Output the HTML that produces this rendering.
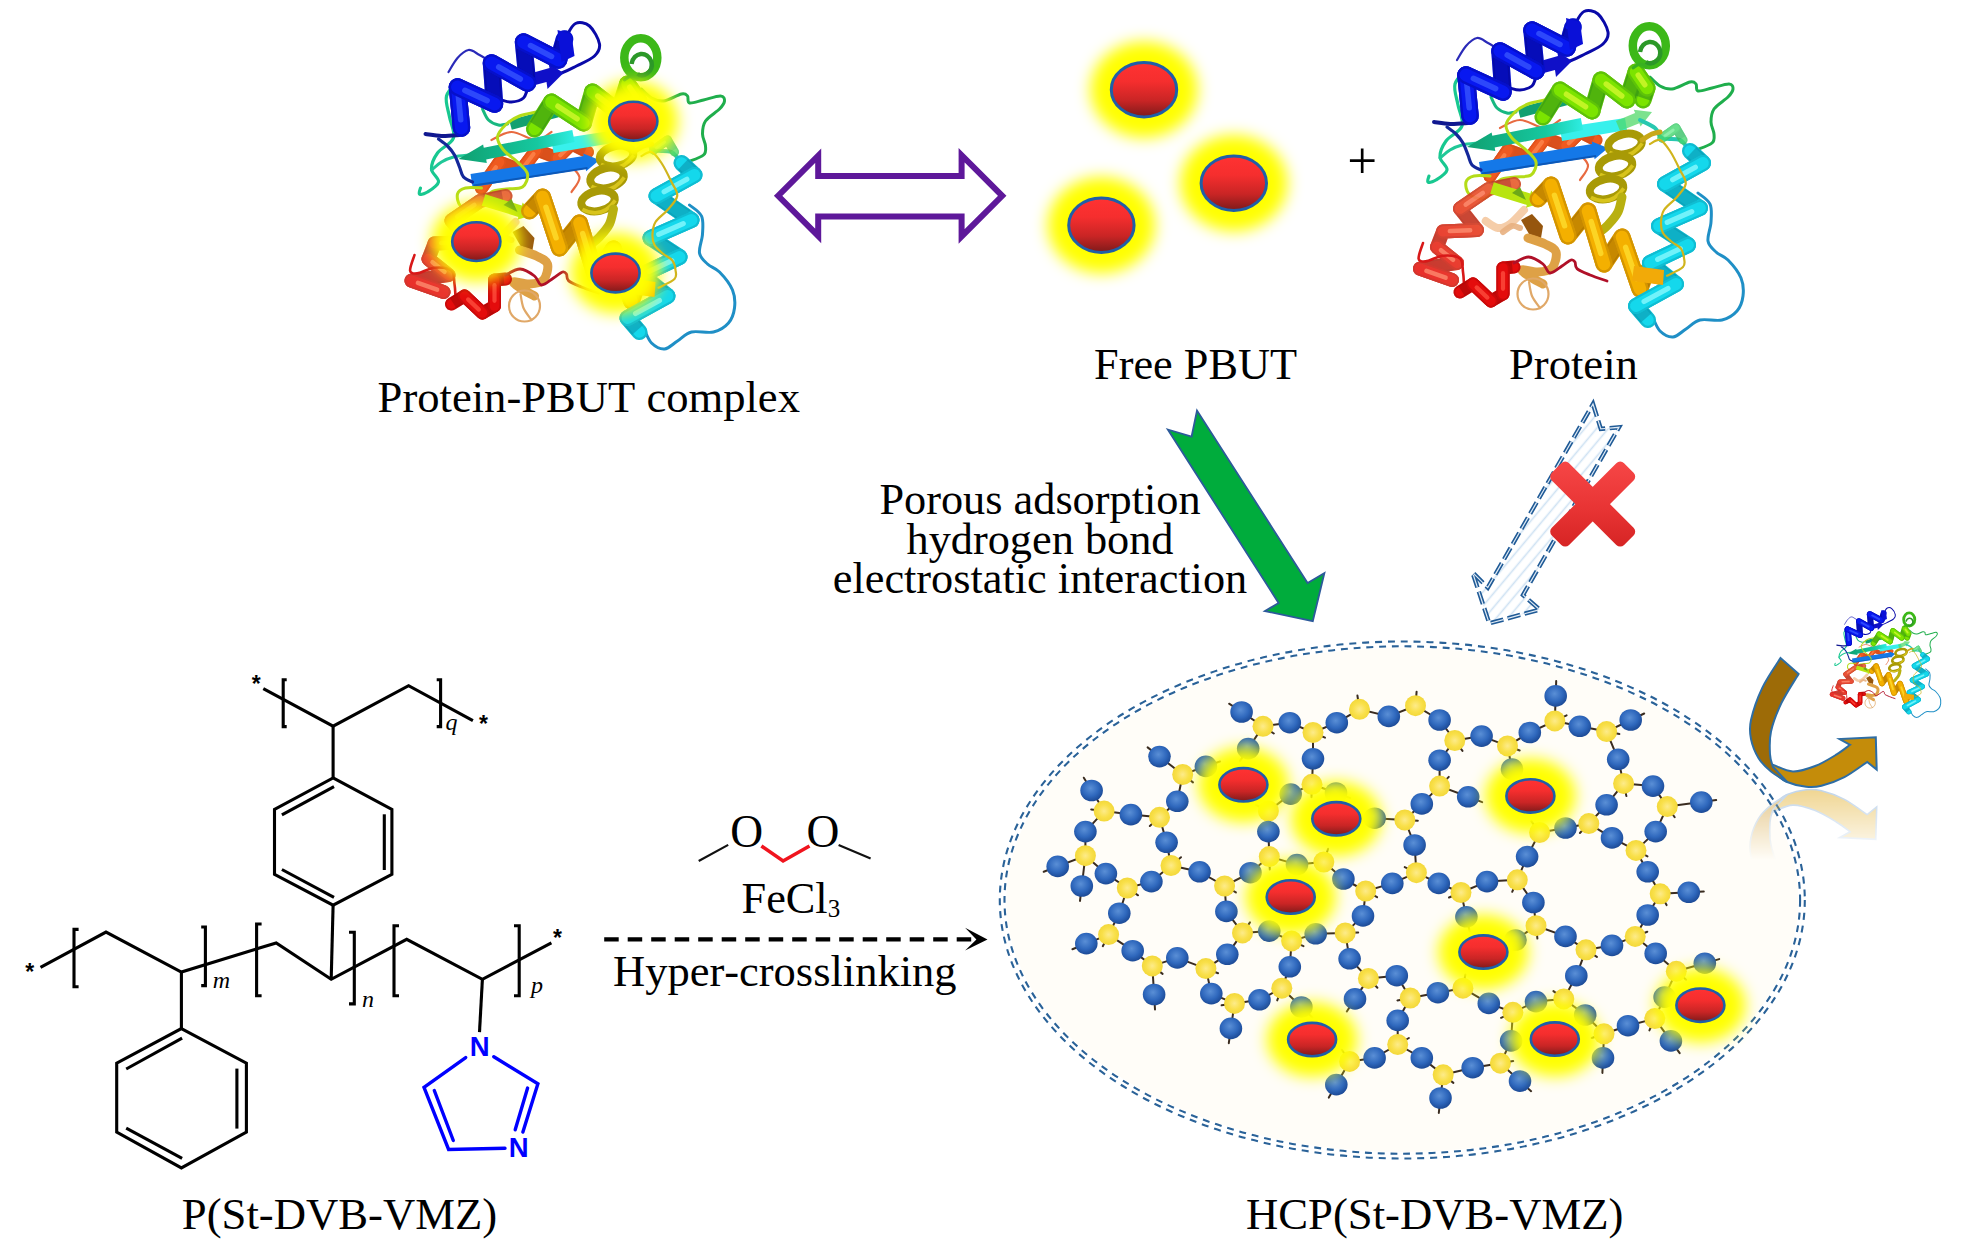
<!DOCTYPE html>
<html><head><meta charset="utf-8"><title>HCP(St-DVB-VMZ) adsorption of PBUT</title>
<style>html,body{margin:0;padding:0;background:#fff}svg{display:block}</style></head>
<body><svg width="1965" height="1260" viewBox="0 0 1965 1260">
<rect width="1965" height="1260" fill="#fff"/>

<defs>
<filter id="gblur" x="-40%" y="-40%" width="180%" height="180%"><feGaussianBlur stdDeviation="7.4"/></filter>
<linearGradient id="red" x1="0" y1="0" x2="0" y2="1">
<stop offset="0" stop-color="#ff3232"/>
<stop offset="0.35" stop-color="#f52e2e"/>
<stop offset="0.7" stop-color="#c92525"/>
<stop offset="1" stop-color="#7e1a1a"/>
</linearGradient>
<radialGradient id="gb" cx="45%" cy="40%" r="60%">
<stop offset="0" stop-color="#5a8fd6"/>
<stop offset="0.6" stop-color="#2f68bd"/>
<stop offset="1" stop-color="#1c4a96"/>
</radialGradient>
<radialGradient id="gy" cx="50%" cy="50%" r="50%">
<stop offset="0" stop-color="#fdeb8a"/>
<stop offset="0.6" stop-color="#f9e04a"/>
<stop offset="1" stop-color="#f3d83a"/>
</radialGradient>
<linearGradient id="redx" gradientUnits="userSpaceOnUse" x1="0" y1="462" x2="0" y2="547">
<stop offset="0" stop-color="#f64646"/>
<stop offset="0.55" stop-color="#e83434"/>
<stop offset="1" stop-color="#d62424"/>
</linearGradient>
<linearGradient id="refl" x1="0" y1="0" x2="0" y2="1">
<stop offset="0" stop-color="#fff" stop-opacity="0.5"/>
<stop offset="1" stop-color="#fff" stop-opacity="0"/>
</linearGradient>
<mask id="reflmask" maskUnits="userSpaceOnUse" x="1700" y="780" width="265" height="120">
<rect x="1700" y="788" width="265" height="72" fill="url(#refl)"/>
</mask>
<pattern id="hatch" width="9" height="9" patternUnits="userSpaceOnUse" patternTransform="rotate(-50)">
<rect width="9" height="9" fill="#ffffff"/>
<line x1="0" y1="4.5" x2="9" y2="4.5" stroke="#cfe2f3" stroke-width="1.6"/>
</pattern>
</defs>

<g id="prot">
<defs>
<linearGradient id="pg1" gradientUnits="userSpaceOnUse" x1="1467" y1="0" x2="1625" y2="0"><stop offset="0" stop-color="#0fa070"/><stop offset="0.5" stop-color="#16c8a0"/><stop offset="0.75" stop-color="#30f0e8"/><stop offset="1" stop-color="#40e8d0"/></linearGradient>
<linearGradient id="pg2" gradientUnits="userSpaceOnUse" x1="1420" y1="290" x2="1515" y2="180"><stop offset="0" stop-color="#e81818"/><stop offset="1" stop-color="#e86030"/></linearGradient>
</defs>
<g fill="none">
<polyline points="1490.0,176.0 1508.0,150.0 1530.0,158.0 1545.0,138.0 1566.0,146.0 1580.0,132.0 1596.0,140.0" stroke="#ef5a20" stroke-width="13.0" stroke-linejoin="round" stroke-linecap="round"/>
<polyline points="1490.0,176.0 1508.0,150.0 1530.0,158.0 1545.0,138.0 1566.0,146.0 1580.0,132.0 1596.0,140.0" stroke="#c84818" stroke-width="13.0" stroke-linejoin="round" stroke-linecap="round" opacity="0.4"/>
<polyline points="1490.0,176.0 1508.0,150.0 1530.0,158.0 1545.0,138.0 1566.0,146.0 1580.0,132.0 1596.0,140.0" stroke="#ef5a20" stroke-width="9.4" stroke-linejoin="round" stroke-linecap="round"/>
<line x1="1510.6" y1="151.0" x2="1526.7" y2="156.8" stroke="#c84818" stroke-width="12.0" opacity="0.55"/>
<line x1="1547.5" y1="139.0" x2="1562.8" y2="144.8" stroke="#c84818" stroke-width="12.0" opacity="0.55"/>
<line x1="1581.9" y1="133.0" x2="1593.6" y2="138.8" stroke="#c84818" stroke-width="12.0" opacity="0.55"/>
<line x1="1490.0" y1="176.0" x2="1508.0" y2="150.0" stroke="#ef5a20" stroke-width="13.0" stroke-linecap="round"/>
<line x1="1490.0" y1="176.0" x2="1508.0" y2="150.0" stroke="#c84818" stroke-width="13.0" stroke-linecap="round" opacity="0.38"/>
<line x1="1490.0" y1="176.0" x2="1508.0" y2="150.0" stroke="#ef5a20" stroke-width="9.6" stroke-linecap="round"/>
<line x1="1493.6" y1="170.8" x2="1504.4" y2="155.2" stroke="#ff8a50" stroke-width="4.2" opacity="0.75" stroke-linecap="round"/>
<line x1="1530.0" y1="158.0" x2="1545.0" y2="138.0" stroke="#ef5a20" stroke-width="13.0" stroke-linecap="round"/>
<line x1="1530.0" y1="158.0" x2="1545.0" y2="138.0" stroke="#c84818" stroke-width="13.0" stroke-linecap="round" opacity="0.38"/>
<line x1="1530.0" y1="158.0" x2="1545.0" y2="138.0" stroke="#ef5a20" stroke-width="9.6" stroke-linecap="round"/>
<line x1="1533.0" y1="154.0" x2="1542.0" y2="142.0" stroke="#ff8a50" stroke-width="4.2" opacity="0.75" stroke-linecap="round"/>
<line x1="1566.0" y1="146.0" x2="1580.0" y2="132.0" stroke="#ef5a20" stroke-width="13.0" stroke-linecap="round"/>
<line x1="1566.0" y1="146.0" x2="1580.0" y2="132.0" stroke="#c84818" stroke-width="13.0" stroke-linecap="round" opacity="0.38"/>
<line x1="1566.0" y1="146.0" x2="1580.0" y2="132.0" stroke="#ef5a20" stroke-width="9.6" stroke-linecap="round"/>
<line x1="1568.8" y1="143.2" x2="1577.2" y2="134.8" stroke="#ff8a50" stroke-width="4.2" opacity="0.75" stroke-linecap="round"/>
</g>
<path d="M1500.0 128.0 C1503.3 126.7 1512.5 120.0 1520.0 120.0 C1527.5 120.0 1538.3 128.0 1545.0 128.0 C1551.7 128.0 1557.5 121.3 1560.0 120.0" fill="none" stroke="#e86a40" stroke-width="2.2" stroke-linecap="round" stroke-linejoin="round"/>
<path d="M1575.0 150.0 C1577.2 152.5 1587.2 160.0 1588.0 165.0 C1588.8 170.0 1581.3 177.5 1580.0 180.0" fill="none" stroke="#e86a40" stroke-width="2.2" stroke-linecap="round" stroke-linejoin="round"/>
<path d="M1467.0 69.0 C1465.0 71.5 1456.5 78.0 1455.0 84.0 C1453.5 90.0 1456.8 98.0 1458.0 105.0 C1459.2 112.0 1464.0 120.0 1462.0 126.0 C1460.0 132.0 1449.7 135.8 1446.0 141.0 C1442.3 146.2 1439.8 152.2 1440.0 157.0 C1440.2 161.8 1447.7 166.2 1447.0 170.0 C1446.3 173.8 1439.2 178.0 1436.0 180.0 C1432.8 182.0 1429.2 182.7 1428.0 182.0 C1426.8 181.3 1428.8 177.0 1429.0 176.0" fill="none" stroke="#18c890" stroke-width="3.2" stroke-linecap="round" stroke-linejoin="round"/>
<path d="M1491.0 97.0 C1492.0 98.8 1494.3 105.3 1497.0 108.0 C1499.7 110.7 1503.8 112.3 1507.0 113.0 C1510.2 113.7 1514.5 112.2 1516.0 112.0" fill="none" stroke="#18b880" stroke-width="3.0" stroke-linecap="round" stroke-linejoin="round"/>
<path d="M1478.0 143.0 C1475.3 143.3 1466.7 143.8 1462.0 145.0 C1457.3 146.2 1453.7 147.8 1450.0 150.0 C1446.3 152.2 1441.7 156.7 1440.0 158.0" fill="none" stroke="#20c898" stroke-width="3.0" stroke-linecap="round" stroke-linejoin="round"/>
<path d="M1650.0 77.0 C1651.7 78.5 1656.3 84.0 1660.0 86.0 C1663.7 88.0 1667.0 89.7 1672.0 89.0 C1677.0 88.3 1686.0 82.8 1690.0 82.0 C1694.0 81.2 1694.7 82.5 1696.0 84.0 C1697.3 85.5 1695.3 90.3 1698.0 91.0 C1700.7 91.7 1706.8 89.2 1712.0 88.0 C1717.2 86.8 1725.5 83.8 1729.0 84.0 C1732.5 84.2 1733.2 86.8 1733.0 89.0 C1732.8 91.2 1731.2 93.7 1728.0 97.0 C1724.8 100.3 1716.8 104.8 1714.0 109.0 C1711.2 113.2 1711.0 117.8 1711.0 122.0 C1711.0 126.2 1713.8 130.5 1714.0 134.0 C1714.2 137.5 1715.0 140.3 1712.0 143.0 C1709.0 145.7 1698.7 148.8 1696.0 150.0" fill="none" stroke="#1fae4c" stroke-width="3.0" stroke-linecap="round" stroke-linejoin="round"/>
<path d="M1698.0 193.0 C1700.0 194.8 1707.8 199.2 1710.0 204.0 C1712.2 208.8 1711.3 215.8 1711.0 222.0 C1710.7 228.2 1707.2 236.0 1708.0 241.0 C1708.8 246.0 1712.7 248.8 1716.0 252.0 C1719.3 255.2 1723.8 255.7 1728.0 260.0 C1732.2 264.3 1738.5 272.0 1741.0 278.0 C1743.5 284.0 1743.7 290.5 1743.0 296.0 C1742.3 301.5 1740.5 307.0 1737.0 311.0 C1733.5 315.0 1728.2 318.5 1722.0 320.0 C1715.8 321.5 1706.0 318.5 1700.0 320.0 C1694.0 321.5 1690.5 326.2 1686.0 329.0 C1681.5 331.8 1677.3 336.7 1673.0 337.0 C1668.7 337.3 1663.3 334.2 1660.0 331.0 C1656.7 327.8 1654.2 320.2 1653.0 318.0" fill="none" stroke="#1f8fc6" stroke-width="3.0" stroke-linecap="round" stroke-linejoin="round"/>
<polygon points="1560,128 1625,118 1627,130 1562,141" fill="#38f0ec"/>
<polygon points="1620.1,131.1 1639.3,123.2 1640.6,126.4 1652.0,112.0 1633.8,109.8 1635.1,113.0 1615.9,120.9" fill="#50d868" opacity="0.75"/>
<path d="M1640.0 120.0 C1642.5 121.3 1651.3 125.0 1655.0 128.0 C1658.7 131.0 1657.8 136.0 1662.0 138.0 C1666.2 140.0 1675.3 137.7 1680.0 140.0 C1684.7 142.3 1688.3 150.0 1690.0 152.0" fill="none" stroke="#28c8b0" stroke-width="4.0" stroke-linecap="round" stroke-linejoin="round"/>
<g fill="none" opacity="0.80">
<polyline points="1662.0,138.0 1676.0,128.0 1683.0,140.0" stroke="#44d870" stroke-width="9.0" stroke-linejoin="round" stroke-linecap="round"/>
<polyline points="1662.0,138.0 1676.0,128.0 1683.0,140.0" stroke="#30b060" stroke-width="9.0" stroke-linejoin="round" stroke-linecap="round" opacity="0.4"/>
<polyline points="1662.0,138.0 1676.0,128.0 1683.0,140.0" stroke="#44d870" stroke-width="6.5" stroke-linejoin="round" stroke-linecap="round"/>
<line x1="1676.8" y1="129.4" x2="1682.0" y2="138.2" stroke="#30b060" stroke-width="8.3" opacity="0.55"/>
<line x1="1662.0" y1="138.0" x2="1676.0" y2="128.0" stroke="#44d870" stroke-width="9.0" stroke-linecap="round"/>
<line x1="1662.0" y1="138.0" x2="1676.0" y2="128.0" stroke="#30b060" stroke-width="9.0" stroke-linecap="round" opacity="0.38"/>
<line x1="1662.0" y1="138.0" x2="1676.0" y2="128.0" stroke="#44d870" stroke-width="6.7" stroke-linecap="round"/>
<line x1="1664.8" y1="136.0" x2="1673.2" y2="130.0" stroke="#80f0a0" stroke-width="2.9" opacity="0.75" stroke-linecap="round"/>
</g>
<polygon points="1520.3,117.8 1579.2,101.9 1579.2,101.9 1578.0,97.0 1576.6,92.2 1576.6,92.2 1517.7,108.2" fill="#12a070"/>
<polygon points="1580.8,118.1 1492.3,135.8 1491.6,132.4 1467.0,147.0 1495.3,151.0 1494.7,147.6 1583.2,129.9" fill="url(#pg1)"/>
<polygon points="1481.0,174.9 1594.2,156.8 1594.6,159.3 1608.0,148.0 1591.8,141.5 1592.2,144.0 1479.0,162.1" fill="#1478e8"/>
<path d="M1482 173.5L1596 156" stroke="#0c58b8" stroke-width="2" fill="none"/>
<path d="M1434.0 122.0 C1436.7 122.3 1444.3 123.8 1450.0 124.0 C1455.7 124.2 1465.0 123.2 1468.0 123.0" fill="none" stroke="#101890" stroke-width="4.0" stroke-linecap="round" stroke-linejoin="round"/>
<path d="M1447.0 127.0 C1448.5 128.2 1453.3 131.3 1456.0 134.0 C1458.7 136.7 1461.0 139.5 1463.0 143.0 C1465.0 146.5 1466.5 151.3 1468.0 155.0 C1469.5 158.7 1469.8 162.5 1472.0 165.0 C1474.2 167.5 1479.5 169.2 1481.0 170.0" fill="none" stroke="#14289a" stroke-width="3.2" stroke-linecap="round" stroke-linejoin="round"/>
<path d="M1457.0 60.0 C1458.5 57.7 1462.7 49.7 1466.0 46.0 C1469.3 42.3 1473.3 38.5 1477.0 38.0 C1480.7 37.5 1484.2 41.0 1488.0 43.0 C1491.8 45.0 1498.0 48.8 1500.0 50.0" fill="none" stroke="#2a2ab8" stroke-width="2.2" stroke-linecap="round" stroke-linejoin="round"/>
<path d="M1575.0 24.0 C1576.5 21.9 1580.2 13.2 1584.0 11.5 C1587.8 9.8 1594.0 10.6 1598.0 14.0 C1602.0 17.4 1607.2 27.0 1608.0 32.0 C1608.8 37.0 1606.8 40.3 1603.0 44.0 C1599.2 47.7 1590.5 51.2 1585.0 54.0 C1579.5 56.8 1575.8 59.0 1570.0 61.0 C1564.2 63.0 1555.3 63.8 1550.0 66.0 C1544.7 68.2 1541.0 70.7 1538.0 74.0 C1535.0 77.3 1535.0 83.3 1532.0 86.0 C1529.0 88.7 1523.7 89.7 1520.0 90.0 C1516.3 90.3 1511.7 88.3 1510.0 88.0" fill="none" stroke="#0a0aa8" stroke-width="3.0" stroke-linecap="round" stroke-linejoin="round"/>
<polygon points="1537,62 1558,56 1557,51 1572,61 1556,77 1555,70 1540,74" fill="#1010c8"/>
<g fill="none">
<polyline points="1470.0,116.0 1466.0,75.0 1503.0,92.0 1500.0,51.0 1536.0,71.0 1532.0,30.0 1567.0,48.0 1573.0,27.0" stroke="#0818f0" stroke-width="17.5" stroke-linejoin="round" stroke-linecap="round"/>
<polyline points="1470.0,116.0 1466.0,75.0 1503.0,92.0 1500.0,51.0 1536.0,71.0 1532.0,30.0 1567.0,48.0 1573.0,27.0" stroke="#06068c" stroke-width="17.5" stroke-linejoin="round" stroke-linecap="round" opacity="0.4"/>
<polyline points="1470.0,116.0 1466.0,75.0 1503.0,92.0 1500.0,51.0 1536.0,71.0 1532.0,30.0 1567.0,48.0 1573.0,27.0" stroke="#0818f0" stroke-width="12.6" stroke-linejoin="round" stroke-linecap="round"/>
<line x1="1502.6" y1="87.1" x2="1500.5" y2="57.1" stroke="#06068c" stroke-width="16.1" opacity="0.55"/>
<line x1="1535.5" y1="66.1" x2="1532.6" y2="36.1" stroke="#06068c" stroke-width="16.1" opacity="0.55"/>
<line x1="1567.7" y1="45.5" x2="1572.1" y2="30.2" stroke="#06068c" stroke-width="16.1" opacity="0.55"/>
<line x1="1470.0" y1="116.0" x2="1466.0" y2="75.0" stroke="#0818f0" stroke-width="17.5" stroke-linecap="round"/>
<line x1="1470.0" y1="116.0" x2="1466.0" y2="75.0" stroke="#06068c" stroke-width="17.5" stroke-linecap="round" opacity="0.38"/>
<line x1="1470.0" y1="116.0" x2="1466.0" y2="75.0" stroke="#0818f0" stroke-width="12.9" stroke-linecap="round"/>
<line x1="1469.2" y1="107.8" x2="1466.8" y2="83.2" stroke="#3a58ff" stroke-width="5.6" opacity="0.75" stroke-linecap="round"/>
<line x1="1466.0" y1="75.0" x2="1503.0" y2="92.0" stroke="#0818f0" stroke-width="17.5" stroke-linecap="round"/>
<line x1="1466.0" y1="75.0" x2="1503.0" y2="92.0" stroke="#06068c" stroke-width="17.5" stroke-linecap="round" opacity="0.38"/>
<line x1="1466.0" y1="75.0" x2="1503.0" y2="92.0" stroke="#0818f0" stroke-width="12.9" stroke-linecap="round"/>
<line x1="1473.4" y1="78.4" x2="1495.6" y2="88.6" stroke="#3a58ff" stroke-width="5.6" opacity="0.75" stroke-linecap="round"/>
<line x1="1500.0" y1="51.0" x2="1536.0" y2="71.0" stroke="#0818f0" stroke-width="17.5" stroke-linecap="round"/>
<line x1="1500.0" y1="51.0" x2="1536.0" y2="71.0" stroke="#06068c" stroke-width="17.5" stroke-linecap="round" opacity="0.38"/>
<line x1="1500.0" y1="51.0" x2="1536.0" y2="71.0" stroke="#0818f0" stroke-width="12.9" stroke-linecap="round"/>
<line x1="1507.2" y1="55.0" x2="1528.8" y2="67.0" stroke="#3a58ff" stroke-width="5.6" opacity="0.75" stroke-linecap="round"/>
<line x1="1532.0" y1="30.0" x2="1567.0" y2="48.0" stroke="#0818f0" stroke-width="17.5" stroke-linecap="round"/>
<line x1="1532.0" y1="30.0" x2="1567.0" y2="48.0" stroke="#06068c" stroke-width="17.5" stroke-linecap="round" opacity="0.38"/>
<line x1="1532.0" y1="30.0" x2="1567.0" y2="48.0" stroke="#0818f0" stroke-width="12.9" stroke-linecap="round"/>
<line x1="1539.0" y1="33.6" x2="1560.0" y2="44.4" stroke="#3a58ff" stroke-width="5.6" opacity="0.75" stroke-linecap="round"/>
</g>
<polygon points="1566,18 1580,22 1583,44 1570,50" fill="#0a10d8"/>
<path d="M1545.0 100.0 C1542.2 100.7 1533.0 102.0 1528.0 104.0 C1523.0 106.0 1518.7 108.5 1515.0 112.0 C1511.3 115.5 1506.5 120.7 1506.0 125.0 C1505.5 129.3 1508.7 133.8 1512.0 138.0 C1515.3 142.2 1522.0 146.0 1526.0 150.0 C1530.0 154.0 1535.2 157.8 1536.0 162.0 C1536.8 166.2 1534.5 172.5 1531.0 175.0 C1527.5 177.5 1520.2 176.2 1515.0 177.0 C1509.8 177.8 1503.8 177.5 1500.0 180.0 C1496.2 182.5 1495.0 188.8 1492.0 192.0 C1489.0 195.2 1485.8 198.7 1482.0 199.0 C1478.2 199.3 1471.7 196.8 1469.0 194.0 C1466.3 191.2 1465.2 185.0 1466.0 182.0 C1466.8 179.0 1470.0 177.0 1474.0 176.0 C1478.0 175.0 1487.3 176.0 1490.0 176.0" fill="none" stroke="#b4dc18" stroke-width="3.0" stroke-linecap="round" stroke-linejoin="round"/>
<g fill="none">
<polyline points="1543.0,117.0 1560.0,90.0 1592.0,111.0 1601.0,80.0 1627.0,100.0 1636.0,72.0 1647.0,88.0 1643.0,100.0" stroke="#7ce400" stroke-width="17.0" stroke-linejoin="round" stroke-linecap="round"/>
<polyline points="1543.0,117.0 1560.0,90.0 1592.0,111.0 1601.0,80.0 1627.0,100.0 1636.0,72.0 1647.0,88.0 1643.0,100.0" stroke="#2c8c18" stroke-width="17.0" stroke-linejoin="round" stroke-linecap="round" opacity="0.4"/>
<polyline points="1543.0,117.0 1560.0,90.0 1592.0,111.0 1601.0,80.0 1627.0,100.0 1636.0,72.0 1647.0,88.0 1643.0,100.0" stroke="#7ce400" stroke-width="12.2" stroke-linejoin="round" stroke-linecap="round"/>
<line x1="1545.0" y1="113.8" x2="1557.5" y2="94.0" stroke="#2c8c18" stroke-width="15.6" opacity="0.55"/>
<line x1="1593.1" y1="107.3" x2="1599.7" y2="84.7" stroke="#2c8c18" stroke-width="15.6" opacity="0.55"/>
<line x1="1628.1" y1="96.6" x2="1634.7" y2="76.2" stroke="#2c8c18" stroke-width="15.6" opacity="0.55"/>
<line x1="1646.5" y1="89.4" x2="1643.6" y2="98.2" stroke="#2c8c18" stroke-width="15.6" opacity="0.55"/>
<line x1="1560.0" y1="90.0" x2="1592.0" y2="111.0" stroke="#7ce400" stroke-width="17.0" stroke-linecap="round"/>
<line x1="1560.0" y1="90.0" x2="1592.0" y2="111.0" stroke="#2c8c18" stroke-width="17.0" stroke-linecap="round" opacity="0.38"/>
<line x1="1560.0" y1="90.0" x2="1592.0" y2="111.0" stroke="#7ce400" stroke-width="12.6" stroke-linecap="round"/>
<line x1="1566.4" y1="94.2" x2="1585.6" y2="106.8" stroke="#d8fa30" stroke-width="5.4" opacity="0.75" stroke-linecap="round"/>
<line x1="1601.0" y1="80.0" x2="1627.0" y2="100.0" stroke="#7ce400" stroke-width="17.0" stroke-linecap="round"/>
<line x1="1601.0" y1="80.0" x2="1627.0" y2="100.0" stroke="#2c8c18" stroke-width="17.0" stroke-linecap="round" opacity="0.38"/>
<line x1="1601.0" y1="80.0" x2="1627.0" y2="100.0" stroke="#7ce400" stroke-width="12.6" stroke-linecap="round"/>
<line x1="1606.2" y1="84.0" x2="1621.8" y2="96.0" stroke="#d8fa30" stroke-width="5.4" opacity="0.75" stroke-linecap="round"/>
<line x1="1636.0" y1="72.0" x2="1647.0" y2="88.0" stroke="#7ce400" stroke-width="17.0" stroke-linecap="round"/>
<line x1="1636.0" y1="72.0" x2="1647.0" y2="88.0" stroke="#2c8c18" stroke-width="17.0" stroke-linecap="round" opacity="0.38"/>
<line x1="1636.0" y1="72.0" x2="1647.0" y2="88.0" stroke="#7ce400" stroke-width="12.6" stroke-linecap="round"/>
<line x1="1638.2" y1="75.2" x2="1644.8" y2="84.8" stroke="#d8fa30" stroke-width="5.4" opacity="0.75" stroke-linecap="round"/>
</g>
<ellipse cx="1649.3" cy="45.7" rx="16.5" ry="19.5" fill="none" stroke="#3cb818" stroke-width="8.5"/>
<path d="M1640 52 C1642 40 1656 38 1660 50 C1662 60 1652 66 1646 62" fill="none" stroke="#2c9828" stroke-width="4.5"/>
<path d="M1633.0 68.0 C1634.2 67.3 1637.8 64.3 1640.0 64.0 C1642.2 63.7 1645.0 65.7 1646.0 66.0" fill="none" stroke="#38b020" stroke-width="3.0" stroke-linecap="round" stroke-linejoin="round"/>
<g fill="none" opacity="0.92">
<polyline points="1514.0,184.0 1488.6,189.0 1460.0,208.6 1477.0,230.0 1443.0,231.4 1437.0,247.0 1457.0,263.0 1420.0,268.6 1452.0,280.0" stroke="url(#pg2)" stroke-width="14.0" stroke-linejoin="round" stroke-linecap="round"/>
<polyline points="1514.0,184.0 1488.6,189.0 1460.0,208.6 1477.0,230.0 1443.0,231.4 1437.0,247.0 1457.0,263.0 1420.0,268.6 1452.0,280.0" stroke="#a83020" stroke-width="14.0" stroke-linejoin="round" stroke-linecap="round" opacity="0.4"/>
<polyline points="1514.0,184.0 1488.6,189.0 1460.0,208.6 1477.0,230.0 1443.0,231.4 1437.0,247.0 1457.0,263.0 1420.0,268.6 1452.0,280.0" stroke="url(#pg2)" stroke-width="10.1" stroke-linejoin="round" stroke-linecap="round"/>
<line x1="1511.0" y1="184.6" x2="1492.4" y2="188.2" stroke="#a83020" stroke-width="12.9" opacity="0.55"/>
<line x1="1462.0" y1="211.2" x2="1474.5" y2="226.8" stroke="#a83020" stroke-width="12.9" opacity="0.55"/>
<line x1="1442.3" y1="233.3" x2="1437.9" y2="244.7" stroke="#a83020" stroke-width="12.9" opacity="0.55"/>
<line x1="1452.6" y1="263.7" x2="1425.5" y2="267.8" stroke="#a83020" stroke-width="12.9" opacity="0.55"/>
<line x1="1488.6" y1="189.0" x2="1460.0" y2="208.6" stroke="url(#pg2)" stroke-width="14.0" stroke-linecap="round"/>
<line x1="1488.6" y1="189.0" x2="1460.0" y2="208.6" stroke="#a83020" stroke-width="14.0" stroke-linecap="round" opacity="0.38"/>
<line x1="1488.6" y1="189.0" x2="1460.0" y2="208.6" stroke="url(#pg2)" stroke-width="10.4" stroke-linecap="round"/>
<line x1="1482.9" y1="192.9" x2="1465.7" y2="204.7" stroke="#ff8868" stroke-width="4.5" opacity="0.75" stroke-linecap="round"/>
<line x1="1477.0" y1="230.0" x2="1443.0" y2="231.4" stroke="url(#pg2)" stroke-width="14.0" stroke-linecap="round"/>
<line x1="1477.0" y1="230.0" x2="1443.0" y2="231.4" stroke="#a83020" stroke-width="14.0" stroke-linecap="round" opacity="0.38"/>
<line x1="1477.0" y1="230.0" x2="1443.0" y2="231.4" stroke="url(#pg2)" stroke-width="10.4" stroke-linecap="round"/>
<line x1="1470.2" y1="230.3" x2="1449.8" y2="231.1" stroke="#ff8868" stroke-width="4.5" opacity="0.75" stroke-linecap="round"/>
<line x1="1437.0" y1="247.0" x2="1457.0" y2="263.0" stroke="url(#pg2)" stroke-width="14.0" stroke-linecap="round"/>
<line x1="1437.0" y1="247.0" x2="1457.0" y2="263.0" stroke="#a83020" stroke-width="14.0" stroke-linecap="round" opacity="0.38"/>
<line x1="1437.0" y1="247.0" x2="1457.0" y2="263.0" stroke="url(#pg2)" stroke-width="10.4" stroke-linecap="round"/>
<line x1="1441.0" y1="250.2" x2="1453.0" y2="259.8" stroke="#ff8868" stroke-width="4.5" opacity="0.75" stroke-linecap="round"/>
<line x1="1420.0" y1="268.6" x2="1452.0" y2="280.0" stroke="url(#pg2)" stroke-width="14.0" stroke-linecap="round"/>
<line x1="1420.0" y1="268.6" x2="1452.0" y2="280.0" stroke="#a83020" stroke-width="14.0" stroke-linecap="round" opacity="0.38"/>
<line x1="1420.0" y1="268.6" x2="1452.0" y2="280.0" stroke="url(#pg2)" stroke-width="10.4" stroke-linecap="round"/>
<line x1="1426.4" y1="270.9" x2="1445.6" y2="277.7" stroke="#ff8868" stroke-width="4.5" opacity="0.75" stroke-linecap="round"/>
</g>
<path d="M1485.7 221.0 C1487.8 222.2 1494.0 227.5 1498.0 228.0 C1502.0 228.5 1505.7 227.0 1510.0 224.0 C1514.3 221.0 1521.7 212.3 1524.0 210.0" fill="none" stroke="#f4c8a0" stroke-width="8.0" stroke-linecap="round" stroke-linejoin="round" opacity="0.90"/>
<path d="M1503.0 232.0 C1504.5 231.0 1509.2 226.7 1512.0 226.0 C1514.8 225.3 1518.7 227.7 1520.0 228.0" fill="none" stroke="#e8b080" stroke-width="6.0" stroke-linecap="round" stroke-linejoin="round" opacity="0.90"/>
<polygon points="1490.2,193.7 1526.8,204.9 1525.9,207.8 1541.0,203.0 1531.2,190.6 1530.3,193.5 1493.8,182.3" fill="#b8e410"/>
<polygon points="1512,193 1520,187 1526,200" fill="#6ca818"/>
<polygon points="1521,220 1532,214 1543,226 1541,238 1529,234" fill="#96560e"/>
<path d="M1528.0 238.0 C1530.8 239.0 1540.3 241.7 1545.0 244.0 C1549.7 246.3 1554.8 248.0 1556.0 252.0 C1557.2 256.0 1555.0 264.7 1552.0 268.0 C1549.0 271.3 1543.0 271.7 1538.0 272.0 C1533.0 272.3 1523.0 269.0 1522.0 270.0 C1521.0 271.0 1528.5 275.7 1532.0 278.0 C1535.5 280.3 1541.2 283.0 1543.0 284.0" fill="none" stroke="#dc9c3c" stroke-width="9.0" stroke-linecap="round" stroke-linejoin="round" opacity="0.95"/>
<circle cx="1533" cy="294" r="15.5" fill="none" stroke="#e0a868" stroke-width="2.2"/>
<path d="M1529.0 282.0 C1529.5 284.3 1530.2 291.7 1532.0 296.0 C1533.8 300.3 1538.7 306.0 1540.0 308.0" fill="none" stroke="#e0a868" stroke-width="2.2" stroke-linecap="round" stroke-linejoin="round"/>
<ellipse cx="1625.0" cy="144.0" rx="17" ry="10" fill="none" stroke="#a89a06" stroke-width="8" transform="rotate(-12 1625.0 144.0)"/>
<path d="M1608.0 149.0 q17 14 34 -2" fill="none" stroke="#d8c41c" stroke-width="3.6" transform="rotate(-12 1625.0 144.0)"/>
<ellipse cx="1615.5" cy="166.0" rx="17" ry="10" fill="none" stroke="#a89a06" stroke-width="8" transform="rotate(-12 1615.5 166.0)"/>
<path d="M1598.5 171.0 q17 14 34 -2" fill="none" stroke="#d8c41c" stroke-width="3.6" transform="rotate(-12 1615.5 166.0)"/>
<ellipse cx="1606.5" cy="189.0" rx="17" ry="10" fill="none" stroke="#a89a06" stroke-width="8" transform="rotate(-12 1606.5 189.0)"/>
<path d="M1589.5 194.0 q17 14 34 -2" fill="none" stroke="#d8c41c" stroke-width="3.6" transform="rotate(-12 1606.5 189.0)"/>
<path d="M1622.0 197.0 C1621.3 199.5 1620.3 207.3 1618.0 212.0 C1615.7 216.7 1611.0 221.7 1608.0 225.0 C1605.0 228.3 1601.3 230.8 1600.0 232.0" fill="none" stroke="#b8b010" stroke-width="9.0" stroke-linecap="round" stroke-linejoin="round"/>
<path d="M1642.0 140.0 C1643.7 139.0 1649.0 135.3 1652.0 134.0 C1655.0 132.7 1658.7 132.3 1660.0 132.0" fill="none" stroke="#c8a818" stroke-width="5.0" stroke-linecap="round" stroke-linejoin="round"/>
<g fill="none">
<polyline points="1538.0,199.0 1551.0,185.0 1568.0,236.0 1588.0,211.0 1604.0,264.0 1622.0,237.0 1640.0,289.0 1646.0,272.0 1663.0,277.0" stroke="#f4b000" stroke-width="17.0" stroke-linejoin="round" stroke-linecap="round"/>
<polyline points="1538.0,199.0 1551.0,185.0 1568.0,236.0 1588.0,211.0 1604.0,264.0 1622.0,237.0 1640.0,289.0 1646.0,272.0 1663.0,277.0" stroke="#a06800" stroke-width="17.0" stroke-linejoin="round" stroke-linecap="round" opacity="0.4"/>
<polyline points="1538.0,199.0 1551.0,185.0 1568.0,236.0 1588.0,211.0 1604.0,264.0 1622.0,237.0 1640.0,289.0 1646.0,272.0 1663.0,277.0" stroke="#f4b000" stroke-width="12.2" stroke-linejoin="round" stroke-linecap="round"/>
<line x1="1539.6" y1="197.3" x2="1549.0" y2="187.1" stroke="#a06800" stroke-width="15.6" opacity="0.55"/>
<line x1="1570.4" y1="233.0" x2="1585.0" y2="214.8" stroke="#a06800" stroke-width="15.6" opacity="0.55"/>
<line x1="1606.2" y1="260.8" x2="1619.3" y2="241.1" stroke="#a06800" stroke-width="15.6" opacity="0.55"/>
<line x1="1640.7" y1="287.0" x2="1645.1" y2="274.6" stroke="#a06800" stroke-width="15.6" opacity="0.55"/>
<line x1="1648.0" y1="272.6" x2="1660.5" y2="276.2" stroke="#a06800" stroke-width="15.6" opacity="0.55"/>
<line x1="1551.0" y1="185.0" x2="1568.0" y2="236.0" stroke="#f4b000" stroke-width="17.0" stroke-linecap="round"/>
<line x1="1551.0" y1="185.0" x2="1568.0" y2="236.0" stroke="#a06800" stroke-width="17.0" stroke-linecap="round" opacity="0.38"/>
<line x1="1551.0" y1="185.0" x2="1568.0" y2="236.0" stroke="#f4b000" stroke-width="12.6" stroke-linecap="round"/>
<line x1="1554.4" y1="195.2" x2="1564.6" y2="225.8" stroke="#ffe030" stroke-width="5.4" opacity="0.75" stroke-linecap="round"/>
<line x1="1588.0" y1="211.0" x2="1604.0" y2="264.0" stroke="#f4b000" stroke-width="17.0" stroke-linecap="round"/>
<line x1="1588.0" y1="211.0" x2="1604.0" y2="264.0" stroke="#a06800" stroke-width="17.0" stroke-linecap="round" opacity="0.38"/>
<line x1="1588.0" y1="211.0" x2="1604.0" y2="264.0" stroke="#f4b000" stroke-width="12.6" stroke-linecap="round"/>
<line x1="1591.2" y1="221.6" x2="1600.8" y2="253.4" stroke="#ffe030" stroke-width="5.4" opacity="0.75" stroke-linecap="round"/>
<line x1="1622.0" y1="237.0" x2="1640.0" y2="289.0" stroke="#f4b000" stroke-width="17.0" stroke-linecap="round"/>
<line x1="1622.0" y1="237.0" x2="1640.0" y2="289.0" stroke="#a06800" stroke-width="17.0" stroke-linecap="round" opacity="0.38"/>
<line x1="1622.0" y1="237.0" x2="1640.0" y2="289.0" stroke="#f4b000" stroke-width="12.6" stroke-linecap="round"/>
<line x1="1625.6" y1="247.4" x2="1636.4" y2="278.6" stroke="#ffe030" stroke-width="5.4" opacity="0.75" stroke-linecap="round"/>
</g>
<g fill="none">
<polyline points="1690.0,151.0 1703.0,163.0 1665.0,184.0 1700.0,208.0 1659.0,226.0 1688.0,245.0 1650.0,263.0 1676.0,284.0 1636.0,306.0 1648.0,320.0" stroke="#14d8ec" stroke-width="16.0" stroke-linejoin="round" stroke-linecap="round"/>
<polyline points="1690.0,151.0 1703.0,163.0 1665.0,184.0 1700.0,208.0 1659.0,226.0 1688.0,245.0 1650.0,263.0 1676.0,284.0 1636.0,306.0 1648.0,320.0" stroke="#0a90a8" stroke-width="16.0" stroke-linejoin="round" stroke-linecap="round" opacity="0.4"/>
<polyline points="1690.0,151.0 1703.0,163.0 1665.0,184.0 1700.0,208.0 1659.0,226.0 1688.0,245.0 1650.0,263.0 1676.0,284.0 1636.0,306.0 1648.0,320.0" stroke="#14d8ec" stroke-width="11.5" stroke-linejoin="round" stroke-linecap="round"/>
<line x1="1691.6" y1="152.4" x2="1701.0" y2="161.2" stroke="#0a90a8" stroke-width="14.7" opacity="0.55"/>
<line x1="1669.2" y1="186.9" x2="1694.8" y2="204.4" stroke="#0a90a8" stroke-width="14.7" opacity="0.55"/>
<line x1="1662.5" y1="228.3" x2="1683.7" y2="242.2" stroke="#0a90a8" stroke-width="14.7" opacity="0.55"/>
<line x1="1653.1" y1="265.5" x2="1672.1" y2="280.9" stroke="#0a90a8" stroke-width="14.7" opacity="0.55"/>
<line x1="1637.4" y1="307.7" x2="1646.2" y2="317.9" stroke="#0a90a8" stroke-width="14.7" opacity="0.55"/>
<line x1="1703.0" y1="163.0" x2="1665.0" y2="184.0" stroke="#14d8ec" stroke-width="16.0" stroke-linecap="round"/>
<line x1="1703.0" y1="163.0" x2="1665.0" y2="184.0" stroke="#0a90a8" stroke-width="16.0" stroke-linecap="round" opacity="0.38"/>
<line x1="1703.0" y1="163.0" x2="1665.0" y2="184.0" stroke="#14d8ec" stroke-width="11.8" stroke-linecap="round"/>
<line x1="1695.4" y1="167.2" x2="1672.6" y2="179.8" stroke="#90fbff" stroke-width="5.1" opacity="0.75" stroke-linecap="round"/>
<line x1="1700.0" y1="208.0" x2="1659.0" y2="226.0" stroke="#14d8ec" stroke-width="16.0" stroke-linecap="round"/>
<line x1="1700.0" y1="208.0" x2="1659.0" y2="226.0" stroke="#0a90a8" stroke-width="16.0" stroke-linecap="round" opacity="0.38"/>
<line x1="1700.0" y1="208.0" x2="1659.0" y2="226.0" stroke="#14d8ec" stroke-width="11.8" stroke-linecap="round"/>
<line x1="1691.8" y1="211.6" x2="1667.2" y2="222.4" stroke="#90fbff" stroke-width="5.1" opacity="0.75" stroke-linecap="round"/>
<line x1="1688.0" y1="245.0" x2="1650.0" y2="263.0" stroke="#14d8ec" stroke-width="16.0" stroke-linecap="round"/>
<line x1="1688.0" y1="245.0" x2="1650.0" y2="263.0" stroke="#0a90a8" stroke-width="16.0" stroke-linecap="round" opacity="0.38"/>
<line x1="1688.0" y1="245.0" x2="1650.0" y2="263.0" stroke="#14d8ec" stroke-width="11.8" stroke-linecap="round"/>
<line x1="1680.4" y1="248.6" x2="1657.6" y2="259.4" stroke="#90fbff" stroke-width="5.1" opacity="0.75" stroke-linecap="round"/>
<line x1="1676.0" y1="284.0" x2="1636.0" y2="306.0" stroke="#14d8ec" stroke-width="16.0" stroke-linecap="round"/>
<line x1="1676.0" y1="284.0" x2="1636.0" y2="306.0" stroke="#0a90a8" stroke-width="16.0" stroke-linecap="round" opacity="0.38"/>
<line x1="1676.0" y1="284.0" x2="1636.0" y2="306.0" stroke="#14d8ec" stroke-width="11.8" stroke-linecap="round"/>
<line x1="1668.0" y1="288.4" x2="1644.0" y2="301.6" stroke="#90fbff" stroke-width="5.1" opacity="0.75" stroke-linecap="round"/>
</g>
<polygon points="1634,266 1664,270 1663,285 1632,281" fill="#f2aa08"/>
<path d="M1650.0 144.0 C1651.7 143.3 1656.7 138.8 1660.0 140.0 C1663.3 141.2 1666.7 146.0 1670.0 151.0 C1673.3 156.0 1677.4 164.5 1680.0 170.0 C1682.6 175.5 1686.4 179.3 1685.7 184.0 C1685.0 188.7 1679.6 193.7 1676.0 198.0 C1672.4 202.3 1666.5 206.0 1664.0 210.0 C1661.5 214.0 1661.2 218.2 1661.0 222.0 C1660.8 225.8 1661.2 229.7 1663.0 233.0 C1664.8 236.3 1669.0 239.4 1672.0 242.0 C1675.0 244.6 1679.0 245.9 1681.0 248.6 C1683.0 251.3 1683.7 254.9 1684.0 258.0 C1684.3 261.1 1685.8 264.1 1683.0 267.0 C1680.2 269.9 1669.7 274.2 1667.0 275.7" fill="none" stroke="#d0b41c" stroke-width="2.2" stroke-linecap="round" stroke-linejoin="round"/>
<path d="M1423.0 243.0 C1422.3 245.6 1418.1 255.5 1418.6 258.6 C1419.0 261.7 1421.6 261.9 1425.7 261.4 C1429.8 260.9 1437.3 256.2 1443.0 255.7 C1448.7 255.2 1456.7 255.9 1460.0 258.6 C1463.3 261.3 1462.3 267.7 1463.0 272.0 C1463.7 276.3 1463.8 282.2 1464.0 284.3" fill="none" stroke="#d81818" stroke-width="2.6" stroke-linecap="round" stroke-linejoin="round"/>
<g fill="none">
<polyline points="1460.0,292.0 1473.0,284.0 1491.0,301.0 1503.0,294.0 1503.0,268.0 1514.0,267.0" stroke="#e40c0c" stroke-width="13.0" stroke-linejoin="round" stroke-linecap="round"/>
<polyline points="1460.0,292.0 1473.0,284.0 1491.0,301.0 1503.0,294.0 1503.0,268.0 1514.0,267.0" stroke="#a00808" stroke-width="13.0" stroke-linejoin="round" stroke-linecap="round" opacity="0.4"/>
<polyline points="1460.0,292.0 1473.0,284.0 1491.0,301.0 1503.0,294.0 1503.0,268.0 1514.0,267.0" stroke="#e40c0c" stroke-width="9.4" stroke-linejoin="round" stroke-linecap="round"/>
<line x1="1461.6" y1="291.0" x2="1471.0" y2="285.2" stroke="#a00808" stroke-width="12.0" opacity="0.55"/>
<line x1="1492.4" y1="300.2" x2="1501.2" y2="295.1" stroke="#a00808" stroke-width="12.0" opacity="0.55"/>
<line x1="1504.3" y1="267.9" x2="1512.3" y2="267.1" stroke="#a00808" stroke-width="12.0" opacity="0.55"/>
<line x1="1473.0" y1="284.0" x2="1491.0" y2="301.0" stroke="#e40c0c" stroke-width="13.0" stroke-linecap="round"/>
<line x1="1473.0" y1="284.0" x2="1491.0" y2="301.0" stroke="#a00808" stroke-width="13.0" stroke-linecap="round" opacity="0.38"/>
<line x1="1473.0" y1="284.0" x2="1491.0" y2="301.0" stroke="#e40c0c" stroke-width="9.6" stroke-linecap="round"/>
<line x1="1476.6" y1="287.4" x2="1487.4" y2="297.6" stroke="#ff5040" stroke-width="4.2" opacity="0.75" stroke-linecap="round"/>
<line x1="1503.0" y1="294.0" x2="1503.0" y2="268.0" stroke="#e40c0c" stroke-width="13.0" stroke-linecap="round"/>
<line x1="1503.0" y1="294.0" x2="1503.0" y2="268.0" stroke="#a00808" stroke-width="13.0" stroke-linecap="round" opacity="0.38"/>
<line x1="1503.0" y1="294.0" x2="1503.0" y2="268.0" stroke="#e40c0c" stroke-width="9.6" stroke-linecap="round"/>
<line x1="1503.0" y1="288.8" x2="1503.0" y2="273.2" stroke="#ff5040" stroke-width="4.2" opacity="0.75" stroke-linecap="round"/>
</g>
<path d="M1514.0 263.0 C1516.4 262.0 1523.8 256.8 1528.6 257.0 C1533.4 257.2 1539.4 261.3 1543.0 264.0 C1546.6 266.7 1546.8 272.7 1550.0 273.0 C1553.2 273.3 1558.5 268.2 1562.0 266.0 C1565.5 263.8 1568.8 260.7 1571.0 260.0 C1573.2 259.3 1574.0 260.6 1575.0 262.0 C1576.0 263.4 1574.5 266.4 1577.0 268.6 C1579.5 270.8 1585.0 272.9 1590.0 275.0 C1595.0 277.1 1604.2 280.0 1607.0 281.0" fill="none" stroke="#b01028" stroke-width="2.8" stroke-linecap="round" stroke-linejoin="round"/>
</g>
<use href="#prot" transform="translate(-1008.5,12)"/>
<use href="#prot" transform="translate(1830.5,607.5) scale(0.336) translate(-1415,-10)"/>
<ellipse cx="633.3" cy="121.2" rx="44.9" ry="40.2" fill="#ffff00" filter="url(#gblur)"/>
<ellipse cx="476.3" cy="241.6" rx="44.9" ry="40.2" fill="#ffff00" filter="url(#gblur)"/>
<ellipse cx="615.5" cy="273.0" rx="44.9" ry="40.2" fill="#ffff00" filter="url(#gblur)"/>
<ellipse cx="1144.0" cy="89.7" rx="53.7" ry="48.2" fill="#ffff00" filter="url(#gblur)"/>
<ellipse cx="1233.8" cy="183.2" rx="53.7" ry="48.2" fill="#ffff00" filter="url(#gblur)"/>
<ellipse cx="1101.4" cy="225.2" rx="53.7" ry="48.2" fill="#ffff00" filter="url(#gblur)"/>
<ellipse cx="633.3" cy="121.2" rx="24.1" ry="19.4" fill="url(#red)" stroke="#1f5fa8" stroke-width="2.6"/>
<ellipse cx="476.3" cy="241.6" rx="24.1" ry="19.4" fill="url(#red)" stroke="#1f5fa8" stroke-width="2.6"/>
<ellipse cx="615.5" cy="273.0" rx="24.1" ry="19.4" fill="url(#red)" stroke="#1f5fa8" stroke-width="2.6"/>
<ellipse cx="1144.0" cy="89.7" rx="32.7" ry="27.2" fill="url(#red)" stroke="#1f5fa8" stroke-width="3.0"/>
<ellipse cx="1233.8" cy="183.2" rx="32.7" ry="27.2" fill="url(#red)" stroke="#1f5fa8" stroke-width="3.0"/>
<ellipse cx="1101.4" cy="225.2" rx="32.7" ry="27.2" fill="url(#red)" stroke="#1f5fa8" stroke-width="3.0"/>
<polygon points="778.1,195.8 818.2,155.7 818.2,175.9 961.6,175.9 961.6,155.2 1002.2,195.8 961.6,236.4 961.6,216.5 818.2,216.5 818.2,235.9" fill="#fff" stroke="#5e189a" stroke-width="6" stroke-linejoin="miter"/>
<text x="1362.3" y="178" text-anchor="middle" font-family="Liberation Serif,serif" font-size="53" fill="#000">+</text>
<polygon points="1167.8,429.5 1191.6,436.5 1197,410.5 1307.6,583 1324.4,573 1312.8,621.2 1264.9,611.1 1278.6,603" fill="#00ac3c" stroke="#2c5a9a" stroke-width="1.8" stroke-linejoin="miter"/>
<polygon points="1593,404 1600.8,428.9 1619,427.3 1523,595 1539.7,609.6 1489.3,623.4 1472.5,572.4 1487.8,587.6" fill="url(#hatch)" stroke="#1f5a96" stroke-width="4.4" stroke-dasharray="13 4.5" stroke-linejoin="miter"/>
<polygon points="1593,404 1600.8,428.9 1619,427.3 1523,595 1539.7,609.6 1489.3,623.4 1472.5,572.4 1487.8,587.6" fill="none" stroke="#dfeaf5" stroke-width="1.2" stroke-dasharray="13 4.5" stroke-linejoin="miter"/>
<polygon points="1565.2,467.1 1592.7,494.6 1620.2,467.1 1629.7,476.6 1602.2,504.1 1629.7,531.6 1620.2,541.1 1592.7,513.6 1565.2,541.1 1555.7,531.6 1583.2,504.1 1555.7,476.6" fill="url(#redx)" stroke="url(#redx)" stroke-width="11.0" stroke-linejoin="round"/>
<ellipse cx="1402.3" cy="900" rx="396" ry="252" fill="#fffdf8"/>
<ellipse cx="1402.3" cy="900" rx="402.5" ry="258.5" fill="none" stroke="#2a6298" stroke-width="2.1" stroke-dasharray="7 5.9"/>
<ellipse cx="1402.3" cy="900" rx="397.8" ry="253.7" fill="none" stroke="#2a6298" stroke-width="2.1" stroke-dasharray="6.9 5.85"/>
<g stroke="#3a2c20" stroke-width="2" stroke-linecap="round">
<line x1="1241.6" y1="712.0" x2="1263.0" y2="726.3"/>
<line x1="1289.8" y1="722.7" x2="1263.0" y2="726.3"/>
<line x1="1289.8" y1="722.7" x2="1313.0" y2="732.5"/>
<line x1="1336.8" y1="722.7" x2="1313.0" y2="732.5"/>
<line x1="1336.8" y1="722.7" x2="1359.5" y2="709.3"/>
<line x1="1248.2" y1="748.6" x2="1263.0" y2="726.3"/>
<line x1="1313.0" y1="758.8" x2="1313.0" y2="732.5"/>
<line x1="1313.0" y1="758.8" x2="1312.0" y2="784.3"/>
<line x1="1290.7" y1="794.1" x2="1312.0" y2="784.3"/>
<line x1="1290.7" y1="794.1" x2="1268.4" y2="811.0"/>
<line x1="1268.4" y1="831.6" x2="1268.4" y2="811.0"/>
<line x1="1268.4" y1="831.6" x2="1269.3" y2="856.6"/>
<line x1="1297.0" y1="864.6" x2="1269.3" y2="856.6"/>
<line x1="1297.0" y1="864.6" x2="1323.8" y2="862.0"/>
<line x1="1343.4" y1="879.0" x2="1323.8" y2="862.0"/>
<line x1="1343.4" y1="879.0" x2="1365.7" y2="891.0"/>
<line x1="1336.0" y1="793.0" x2="1312.0" y2="784.3"/>
<line x1="1374.6" y1="818.2" x2="1404.8" y2="820.0"/>
<line x1="1159.5" y1="756.6" x2="1182.7" y2="774.5"/>
<line x1="1205.9" y1="766.4" x2="1182.7" y2="774.5"/>
<line x1="1177.3" y1="801.3" x2="1182.7" y2="774.5"/>
<line x1="1177.3" y1="801.3" x2="1159.5" y2="817.3"/>
<line x1="1130.9" y1="814.6" x2="1159.5" y2="817.3"/>
<line x1="1130.9" y1="814.6" x2="1104.1" y2="811.1"/>
<line x1="1091.6" y1="790.5" x2="1104.1" y2="811.1"/>
<line x1="1085.4" y1="831.6" x2="1104.1" y2="811.1"/>
<line x1="1085.4" y1="831.6" x2="1085.4" y2="855.7"/>
<line x1="1057.7" y1="866.4" x2="1085.4" y2="855.7"/>
<line x1="1105.9" y1="873.6" x2="1085.4" y2="855.7"/>
<line x1="1105.9" y1="873.6" x2="1127.3" y2="888.0"/>
<line x1="1081.8" y1="886.0" x2="1085.4" y2="855.7"/>
<line x1="1151.4" y1="881.6" x2="1127.3" y2="888.0"/>
<line x1="1151.4" y1="881.6" x2="1171.0" y2="865.5"/>
<line x1="1166.6" y1="842.3" x2="1159.5" y2="817.3"/>
<line x1="1166.6" y1="842.3" x2="1171.0" y2="865.5"/>
<line x1="1199.6" y1="871.8" x2="1171.0" y2="865.5"/>
<line x1="1199.6" y1="871.8" x2="1224.6" y2="886.0"/>
<line x1="1250.5" y1="872.7" x2="1269.3" y2="856.6"/>
<line x1="1250.5" y1="872.7" x2="1224.6" y2="886.0"/>
<line x1="1388.8" y1="716.4" x2="1359.5" y2="709.3"/>
<line x1="1388.8" y1="716.4" x2="1415.5" y2="705.7"/>
<line x1="1439.6" y1="720.0" x2="1415.5" y2="705.7"/>
<line x1="1439.6" y1="720.0" x2="1454.8" y2="740.5"/>
<line x1="1481.6" y1="736.1" x2="1454.8" y2="740.5"/>
<line x1="1481.6" y1="736.1" x2="1507.5" y2="745.9"/>
<line x1="1529.8" y1="732.5" x2="1507.5" y2="745.9"/>
<line x1="1529.8" y1="732.5" x2="1554.8" y2="720.9"/>
<line x1="1555.7" y1="695.9" x2="1554.8" y2="720.9"/>
<line x1="1579.8" y1="726.3" x2="1554.8" y2="720.9"/>
<line x1="1579.8" y1="726.3" x2="1606.6" y2="731.6"/>
<line x1="1630.7" y1="720.0" x2="1606.6" y2="731.6"/>
<line x1="1618.2" y1="759.3" x2="1606.6" y2="731.6"/>
<line x1="1618.2" y1="759.3" x2="1623.6" y2="783.4"/>
<line x1="1653.0" y1="786.1" x2="1623.6" y2="783.4"/>
<line x1="1653.0" y1="786.1" x2="1667.3" y2="806.6"/>
<line x1="1701.3" y1="802.1" x2="1667.3" y2="806.6"/>
<line x1="1606.6" y1="804.8" x2="1623.6" y2="783.4"/>
<line x1="1606.6" y1="804.8" x2="1588.8" y2="823.6"/>
<line x1="1565.5" y1="828.0" x2="1588.8" y2="823.6"/>
<line x1="1565.5" y1="828.0" x2="1539.6" y2="832.5"/>
<line x1="1527.1" y1="856.6" x2="1539.6" y2="832.5"/>
<line x1="1527.1" y1="856.6" x2="1517.3" y2="879.8"/>
<line x1="1487.0" y1="881.6" x2="1517.3" y2="879.8"/>
<line x1="1487.0" y1="881.6" x2="1461.0" y2="892.5"/>
<line x1="1438.8" y1="883.4" x2="1461.0" y2="892.5"/>
<line x1="1438.8" y1="883.4" x2="1416.4" y2="872.7"/>
<line x1="1392.3" y1="883.4" x2="1365.7" y2="891.0"/>
<line x1="1392.3" y1="883.4" x2="1416.4" y2="872.7"/>
<line x1="1414.6" y1="845.0" x2="1416.4" y2="872.7"/>
<line x1="1414.6" y1="845.0" x2="1404.8" y2="820.0"/>
<line x1="1421.8" y1="803.9" x2="1404.8" y2="820.0"/>
<line x1="1421.8" y1="803.9" x2="1439.6" y2="786.1"/>
<line x1="1439.6" y1="760.2" x2="1454.8" y2="740.5"/>
<line x1="1439.6" y1="760.2" x2="1439.6" y2="786.1"/>
<line x1="1468.2" y1="796.8" x2="1439.6" y2="786.1"/>
<line x1="1512.0" y1="769.1" x2="1507.5" y2="745.9"/>
<line x1="1612.0" y1="837.9" x2="1588.8" y2="823.6"/>
<line x1="1612.0" y1="837.9" x2="1636.0" y2="850.4"/>
<line x1="1655.7" y1="831.6" x2="1667.3" y2="806.6"/>
<line x1="1655.7" y1="831.6" x2="1636.0" y2="850.4"/>
<line x1="1647.7" y1="871.8" x2="1636.0" y2="850.4"/>
<line x1="1647.7" y1="871.8" x2="1660.2" y2="893.8"/>
<line x1="1688.8" y1="892.3" x2="1660.2" y2="893.8"/>
<line x1="1119.3" y1="913.2" x2="1127.3" y2="888.0"/>
<line x1="1119.3" y1="913.2" x2="1108.6" y2="934.6"/>
<line x1="1086.3" y1="943.6" x2="1108.6" y2="934.6"/>
<line x1="1132.7" y1="950.7" x2="1108.6" y2="934.6"/>
<line x1="1132.7" y1="950.7" x2="1152.3" y2="965.9"/>
<line x1="1154.1" y1="994.5" x2="1152.3" y2="965.9"/>
<line x1="1177.3" y1="957.9" x2="1152.3" y2="965.9"/>
<line x1="1177.3" y1="957.9" x2="1205.9" y2="968.6"/>
<line x1="1227.3" y1="954.3" x2="1205.9" y2="968.6"/>
<line x1="1227.3" y1="954.3" x2="1242.5" y2="932.9"/>
<line x1="1226.4" y1="911.4" x2="1224.6" y2="886.0"/>
<line x1="1226.4" y1="911.4" x2="1242.5" y2="932.9"/>
<line x1="1269.3" y1="931.1" x2="1242.5" y2="932.9"/>
<line x1="1269.3" y1="931.1" x2="1291.6" y2="940.9"/>
<line x1="1315.7" y1="933.8" x2="1291.6" y2="940.9"/>
<line x1="1315.7" y1="933.8" x2="1345.2" y2="932.9"/>
<line x1="1363.0" y1="915.9" x2="1365.7" y2="891.0"/>
<line x1="1363.0" y1="915.9" x2="1345.2" y2="932.9"/>
<line x1="1349.6" y1="958.8" x2="1345.2" y2="932.9"/>
<line x1="1349.6" y1="958.8" x2="1368.4" y2="978.4"/>
<line x1="1355.0" y1="998.9" x2="1368.4" y2="978.4"/>
<line x1="1289.8" y1="966.8" x2="1291.6" y2="940.9"/>
<line x1="1289.8" y1="966.8" x2="1281.8" y2="988.2"/>
<line x1="1259.5" y1="999.8" x2="1281.8" y2="988.2"/>
<line x1="1259.5" y1="999.8" x2="1234.5" y2="1003.4"/>
<line x1="1211.3" y1="993.6" x2="1205.9" y2="968.6"/>
<line x1="1211.3" y1="993.6" x2="1234.5" y2="1003.4"/>
<line x1="1230.9" y1="1028.4" x2="1234.5" y2="1003.4"/>
<line x1="1301.4" y1="1007.0" x2="1281.8" y2="988.2"/>
<line x1="1374.6" y1="1057.9" x2="1349.6" y2="1061.4"/>
<line x1="1374.6" y1="1057.9" x2="1397.7" y2="1044.5"/>
<line x1="1336.3" y1="1084.6" x2="1349.6" y2="1061.4"/>
<line x1="1466.4" y1="916.8" x2="1461.0" y2="892.5"/>
<line x1="1533.4" y1="902.5" x2="1517.3" y2="879.8"/>
<line x1="1533.4" y1="902.5" x2="1536.0" y2="925.7"/>
<line x1="1515.5" y1="940.0" x2="1536.0" y2="925.7"/>
<line x1="1565.5" y1="936.4" x2="1536.0" y2="925.7"/>
<line x1="1565.5" y1="936.4" x2="1586.0" y2="949.8"/>
<line x1="1612.0" y1="945.4" x2="1586.0" y2="949.8"/>
<line x1="1612.0" y1="945.4" x2="1635.2" y2="936.4"/>
<line x1="1647.7" y1="915.0" x2="1660.2" y2="893.8"/>
<line x1="1647.7" y1="915.0" x2="1635.2" y2="936.4"/>
<line x1="1655.7" y1="953.4" x2="1635.2" y2="936.4"/>
<line x1="1655.7" y1="953.4" x2="1676.3" y2="971.3"/>
<line x1="1704.8" y1="963.2" x2="1676.3" y2="971.3"/>
<line x1="1664.6" y1="997.1" x2="1676.3" y2="971.3"/>
<line x1="1664.6" y1="997.1" x2="1654.8" y2="1018.6"/>
<line x1="1628.0" y1="1025.7" x2="1654.8" y2="1018.6"/>
<line x1="1628.0" y1="1025.7" x2="1604.0" y2="1033.8"/>
<line x1="1585.2" y1="1015.0" x2="1604.0" y2="1033.8"/>
<line x1="1585.2" y1="1015.0" x2="1563.8" y2="998.9"/>
<line x1="1576.3" y1="975.7" x2="1586.0" y2="949.8"/>
<line x1="1576.3" y1="975.7" x2="1563.8" y2="998.9"/>
<line x1="1536.0" y1="1001.6" x2="1563.8" y2="998.9"/>
<line x1="1536.0" y1="1001.6" x2="1512.9" y2="1012.3"/>
<line x1="1488.8" y1="1003.4" x2="1512.9" y2="1012.3"/>
<line x1="1488.8" y1="1003.4" x2="1462.9" y2="988.2"/>
<line x1="1437.9" y1="992.7" x2="1462.9" y2="988.2"/>
<line x1="1437.9" y1="992.7" x2="1410.2" y2="998.0"/>
<line x1="1396.8" y1="975.7" x2="1368.4" y2="978.4"/>
<line x1="1396.8" y1="975.7" x2="1410.2" y2="998.0"/>
<line x1="1397.7" y1="1020.4" x2="1410.2" y2="998.0"/>
<line x1="1397.7" y1="1020.4" x2="1397.7" y2="1044.5"/>
<line x1="1421.8" y1="1057.9" x2="1397.7" y2="1044.5"/>
<line x1="1421.8" y1="1057.9" x2="1443.2" y2="1074.8"/>
<line x1="1440.5" y1="1098.0" x2="1443.2" y2="1074.8"/>
<line x1="1472.7" y1="1067.7" x2="1443.2" y2="1074.8"/>
<line x1="1472.7" y1="1067.7" x2="1500.4" y2="1063.2"/>
<line x1="1520.0" y1="1081.1" x2="1500.4" y2="1063.2"/>
<line x1="1511.1" y1="1040.9" x2="1512.9" y2="1012.3"/>
<line x1="1511.1" y1="1040.9" x2="1500.4" y2="1063.2"/>
<line x1="1603.0" y1="1057.9" x2="1604.0" y2="1033.8"/>
<line x1="1670.9" y1="1040.9" x2="1654.8" y2="1018.6"/>
<line x1="1241.6" y1="712.0" x2="1229.1" y2="703.7"/>
<line x1="1248.2" y1="748.6" x2="1239.9" y2="761.1"/>
<line x1="1336.0" y1="793.0" x2="1350.1" y2="798.1"/>
<line x1="1374.6" y1="818.2" x2="1359.6" y2="817.3"/>
<line x1="1159.5" y1="756.6" x2="1147.6" y2="747.4"/>
<line x1="1205.9" y1="766.4" x2="1220.1" y2="761.5"/>
<line x1="1091.6" y1="790.5" x2="1083.8" y2="777.7"/>
<line x1="1057.7" y1="866.4" x2="1043.7" y2="871.8"/>
<line x1="1081.8" y1="886.0" x2="1080.0" y2="900.9"/>
<line x1="1555.7" y1="695.9" x2="1556.2" y2="680.9"/>
<line x1="1630.7" y1="720.0" x2="1644.2" y2="713.5"/>
<line x1="1701.3" y1="802.1" x2="1716.2" y2="800.1"/>
<line x1="1468.2" y1="796.8" x2="1482.2" y2="802.1"/>
<line x1="1512.0" y1="769.1" x2="1514.9" y2="783.8"/>
<line x1="1688.8" y1="892.3" x2="1703.8" y2="891.5"/>
<line x1="1086.3" y1="943.6" x2="1072.4" y2="949.2"/>
<line x1="1154.1" y1="994.5" x2="1155.0" y2="1009.5"/>
<line x1="1355.0" y1="998.9" x2="1346.8" y2="1011.5"/>
<line x1="1230.9" y1="1028.4" x2="1228.8" y2="1043.2"/>
<line x1="1301.4" y1="1007.0" x2="1312.2" y2="1017.4"/>
<line x1="1336.3" y1="1084.6" x2="1328.8" y2="1097.6"/>
<line x1="1466.4" y1="916.8" x2="1469.7" y2="931.4"/>
<line x1="1515.5" y1="940.0" x2="1503.2" y2="948.6"/>
<line x1="1704.8" y1="963.2" x2="1719.2" y2="959.1"/>
<line x1="1440.5" y1="1098.0" x2="1438.8" y2="1112.9"/>
<line x1="1520.0" y1="1081.1" x2="1531.1" y2="1091.2"/>
<line x1="1603.0" y1="1057.9" x2="1602.4" y2="1072.9"/>
<line x1="1670.9" y1="1040.9" x2="1679.7" y2="1053.1"/>
<line x1="1263.0" y1="726.3" x2="1273.8" y2="733.5"/>
<line x1="1313.0" y1="732.5" x2="1325.0" y2="737.6"/>
<line x1="1359.5" y1="709.3" x2="1357.4" y2="695.5"/>
<line x1="1312.0" y1="784.3" x2="1311.5" y2="797.3"/>
<line x1="1268.4" y1="811.0" x2="1255.9" y2="804.8"/>
<line x1="1269.3" y1="856.6" x2="1269.8" y2="869.6"/>
<line x1="1323.8" y1="862.0" x2="1328.1" y2="848.7"/>
<line x1="1365.7" y1="891.0" x2="1377.1" y2="897.2"/>
<line x1="1182.7" y1="774.5" x2="1193.0" y2="782.4"/>
<line x1="1159.5" y1="817.3" x2="1149.8" y2="826.0"/>
<line x1="1104.1" y1="811.1" x2="1091.2" y2="809.4"/>
<line x1="1127.3" y1="888.0" x2="1138.1" y2="895.3"/>
<line x1="1171.0" y1="865.5" x2="1181.0" y2="857.2"/>
<line x1="1224.6" y1="886.0" x2="1235.9" y2="892.4"/>
<line x1="1415.5" y1="705.7" x2="1416.6" y2="691.7"/>
<line x1="1454.8" y1="740.5" x2="1462.5" y2="750.9"/>
<line x1="1507.5" y1="745.9" x2="1519.7" y2="750.5"/>
<line x1="1554.8" y1="720.9" x2="1566.6" y2="715.4"/>
<line x1="1606.6" y1="731.6" x2="1619.4" y2="734.1"/>
<line x1="1623.6" y1="783.4" x2="1626.4" y2="796.1"/>
<line x1="1667.3" y1="806.6" x2="1674.7" y2="817.3"/>
<line x1="1588.8" y1="823.6" x2="1579.9" y2="833.0"/>
<line x1="1539.6" y1="832.5" x2="1531.3" y2="821.2"/>
<line x1="1517.3" y1="879.8" x2="1512.2" y2="891.8"/>
<line x1="1461.0" y1="892.5" x2="1449.0" y2="897.5"/>
<line x1="1416.4" y1="872.7" x2="1404.7" y2="867.1"/>
<line x1="1404.8" y1="820.0" x2="1417.8" y2="820.8"/>
<line x1="1439.6" y1="786.1" x2="1448.8" y2="776.9"/>
<line x1="1636.0" y1="850.4" x2="1647.5" y2="856.4"/>
<line x1="1660.2" y1="893.8" x2="1666.6" y2="905.1"/>
<line x1="1108.6" y1="934.6" x2="1102.8" y2="946.2"/>
<line x1="1152.3" y1="965.9" x2="1162.6" y2="973.9"/>
<line x1="1205.9" y1="968.6" x2="1218.1" y2="973.2"/>
<line x1="1242.5" y1="932.9" x2="1250.0" y2="922.3"/>
<line x1="1291.6" y1="940.9" x2="1303.5" y2="946.1"/>
<line x1="1345.2" y1="932.9" x2="1358.2" y2="932.5"/>
<line x1="1368.4" y1="978.4" x2="1377.4" y2="987.8"/>
<line x1="1281.8" y1="988.2" x2="1277.2" y2="1000.4"/>
<line x1="1234.5" y1="1003.4" x2="1221.6" y2="1005.3"/>
<line x1="1349.6" y1="1061.4" x2="1341.8" y2="1049.8"/>
<line x1="1536.0" y1="925.7" x2="1537.4" y2="938.6"/>
<line x1="1586.0" y1="949.8" x2="1596.9" y2="956.9"/>
<line x1="1635.2" y1="936.4" x2="1647.3" y2="931.7"/>
<line x1="1676.3" y1="971.3" x2="1686.1" y2="979.8"/>
<line x1="1654.8" y1="1018.6" x2="1649.4" y2="1030.4"/>
<line x1="1604.0" y1="1033.8" x2="1591.7" y2="1038.0"/>
<line x1="1563.8" y1="998.9" x2="1553.4" y2="991.1"/>
<line x1="1512.9" y1="1012.3" x2="1501.1" y2="1017.8"/>
<line x1="1462.9" y1="988.2" x2="1465.4" y2="974.4"/>
<line x1="1410.2" y1="998.0" x2="1397.4" y2="1000.4"/>
<line x1="1397.7" y1="1044.5" x2="1408.9" y2="1038.0"/>
<line x1="1443.2" y1="1074.8" x2="1453.4" y2="1082.9"/>
<line x1="1500.4" y1="1063.2" x2="1513.2" y2="1061.1"/>
</g>
<g fill="url(#gy)">
<circle cx="1263.0" cy="726.3" r="10.5"/>
<circle cx="1313.0" cy="732.5" r="10.5"/>
<circle cx="1359.5" cy="709.3" r="10.5"/>
<circle cx="1312.0" cy="784.3" r="10.5"/>
<circle cx="1268.4" cy="811.0" r="10.5"/>
<circle cx="1269.3" cy="856.6" r="10.5"/>
<circle cx="1323.8" cy="862.0" r="10.5"/>
<circle cx="1365.7" cy="891.0" r="10.5"/>
<circle cx="1182.7" cy="774.5" r="10.5"/>
<circle cx="1159.5" cy="817.3" r="10.5"/>
<circle cx="1104.1" cy="811.1" r="10.5"/>
<circle cx="1085.4" cy="855.7" r="10.5"/>
<circle cx="1127.3" cy="888.0" r="10.5"/>
<circle cx="1171.0" cy="865.5" r="10.5"/>
<circle cx="1224.6" cy="886.0" r="10.5"/>
<circle cx="1415.5" cy="705.7" r="10.5"/>
<circle cx="1454.8" cy="740.5" r="10.5"/>
<circle cx="1507.5" cy="745.9" r="10.5"/>
<circle cx="1554.8" cy="720.9" r="10.5"/>
<circle cx="1606.6" cy="731.6" r="10.5"/>
<circle cx="1623.6" cy="783.4" r="10.5"/>
<circle cx="1667.3" cy="806.6" r="10.5"/>
<circle cx="1588.8" cy="823.6" r="10.5"/>
<circle cx="1539.6" cy="832.5" r="10.5"/>
<circle cx="1517.3" cy="879.8" r="10.5"/>
<circle cx="1461.0" cy="892.5" r="10.5"/>
<circle cx="1416.4" cy="872.7" r="10.5"/>
<circle cx="1404.8" cy="820.0" r="10.5"/>
<circle cx="1439.6" cy="786.1" r="10.5"/>
<circle cx="1636.0" cy="850.4" r="10.5"/>
<circle cx="1660.2" cy="893.8" r="10.5"/>
<circle cx="1108.6" cy="934.6" r="10.5"/>
<circle cx="1152.3" cy="965.9" r="10.5"/>
<circle cx="1205.9" cy="968.6" r="10.5"/>
<circle cx="1242.5" cy="932.9" r="10.5"/>
<circle cx="1291.6" cy="940.9" r="10.5"/>
<circle cx="1345.2" cy="932.9" r="10.5"/>
<circle cx="1368.4" cy="978.4" r="10.5"/>
<circle cx="1281.8" cy="988.2" r="10.5"/>
<circle cx="1234.5" cy="1003.4" r="10.5"/>
<circle cx="1349.6" cy="1061.4" r="10.5"/>
<circle cx="1536.0" cy="925.7" r="10.5"/>
<circle cx="1586.0" cy="949.8" r="10.5"/>
<circle cx="1635.2" cy="936.4" r="10.5"/>
<circle cx="1676.3" cy="971.3" r="10.5"/>
<circle cx="1654.8" cy="1018.6" r="10.5"/>
<circle cx="1604.0" cy="1033.8" r="10.5"/>
<circle cx="1563.8" cy="998.9" r="10.5"/>
<circle cx="1512.9" cy="1012.3" r="10.5"/>
<circle cx="1462.9" cy="988.2" r="10.5"/>
<circle cx="1410.2" cy="998.0" r="10.5"/>
<circle cx="1397.7" cy="1044.5" r="10.5"/>
<circle cx="1443.2" cy="1074.8" r="10.5"/>
<circle cx="1500.4" cy="1063.2" r="10.5"/>
</g>
<g fill="url(#gb)">
<ellipse cx="1241.6" cy="712.0" rx="11.3" ry="10.8"/>
<ellipse cx="1289.8" cy="722.7" rx="11.3" ry="10.8"/>
<ellipse cx="1336.8" cy="722.7" rx="11.3" ry="10.8"/>
<ellipse cx="1248.2" cy="748.6" rx="11.3" ry="10.8"/>
<ellipse cx="1313.0" cy="758.8" rx="11.3" ry="10.8"/>
<ellipse cx="1290.7" cy="794.1" rx="11.3" ry="10.8"/>
<ellipse cx="1268.4" cy="831.6" rx="11.3" ry="10.8"/>
<ellipse cx="1297.0" cy="864.6" rx="11.3" ry="10.8"/>
<ellipse cx="1343.4" cy="879.0" rx="11.3" ry="10.8"/>
<ellipse cx="1336.0" cy="793.0" rx="11.3" ry="10.8"/>
<ellipse cx="1374.6" cy="818.2" rx="11.3" ry="10.8"/>
<ellipse cx="1159.5" cy="756.6" rx="11.3" ry="10.8"/>
<ellipse cx="1205.9" cy="766.4" rx="11.3" ry="10.8"/>
<ellipse cx="1177.3" cy="801.3" rx="11.3" ry="10.8"/>
<ellipse cx="1130.9" cy="814.6" rx="11.3" ry="10.8"/>
<ellipse cx="1091.6" cy="790.5" rx="11.3" ry="10.8"/>
<ellipse cx="1085.4" cy="831.6" rx="11.3" ry="10.8"/>
<ellipse cx="1057.7" cy="866.4" rx="11.3" ry="10.8"/>
<ellipse cx="1105.9" cy="873.6" rx="11.3" ry="10.8"/>
<ellipse cx="1081.8" cy="886.0" rx="11.3" ry="10.8"/>
<ellipse cx="1151.4" cy="881.6" rx="11.3" ry="10.8"/>
<ellipse cx="1166.6" cy="842.3" rx="11.3" ry="10.8"/>
<ellipse cx="1199.6" cy="871.8" rx="11.3" ry="10.8"/>
<ellipse cx="1250.5" cy="872.7" rx="11.3" ry="10.8"/>
<ellipse cx="1388.8" cy="716.4" rx="11.3" ry="10.8"/>
<ellipse cx="1439.6" cy="720.0" rx="11.3" ry="10.8"/>
<ellipse cx="1481.6" cy="736.1" rx="11.3" ry="10.8"/>
<ellipse cx="1529.8" cy="732.5" rx="11.3" ry="10.8"/>
<ellipse cx="1555.7" cy="695.9" rx="11.3" ry="10.8"/>
<ellipse cx="1579.8" cy="726.3" rx="11.3" ry="10.8"/>
<ellipse cx="1630.7" cy="720.0" rx="11.3" ry="10.8"/>
<ellipse cx="1618.2" cy="759.3" rx="11.3" ry="10.8"/>
<ellipse cx="1653.0" cy="786.1" rx="11.3" ry="10.8"/>
<ellipse cx="1701.3" cy="802.1" rx="11.3" ry="10.8"/>
<ellipse cx="1606.6" cy="804.8" rx="11.3" ry="10.8"/>
<ellipse cx="1565.5" cy="828.0" rx="11.3" ry="10.8"/>
<ellipse cx="1527.1" cy="856.6" rx="11.3" ry="10.8"/>
<ellipse cx="1487.0" cy="881.6" rx="11.3" ry="10.8"/>
<ellipse cx="1438.8" cy="883.4" rx="11.3" ry="10.8"/>
<ellipse cx="1392.3" cy="883.4" rx="11.3" ry="10.8"/>
<ellipse cx="1414.6" cy="845.0" rx="11.3" ry="10.8"/>
<ellipse cx="1421.8" cy="803.9" rx="11.3" ry="10.8"/>
<ellipse cx="1439.6" cy="760.2" rx="11.3" ry="10.8"/>
<ellipse cx="1468.2" cy="796.8" rx="11.3" ry="10.8"/>
<ellipse cx="1512.0" cy="769.1" rx="11.3" ry="10.8"/>
<ellipse cx="1612.0" cy="837.9" rx="11.3" ry="10.8"/>
<ellipse cx="1655.7" cy="831.6" rx="11.3" ry="10.8"/>
<ellipse cx="1647.7" cy="871.8" rx="11.3" ry="10.8"/>
<ellipse cx="1688.8" cy="892.3" rx="11.3" ry="10.8"/>
<ellipse cx="1119.3" cy="913.2" rx="11.3" ry="10.8"/>
<ellipse cx="1086.3" cy="943.6" rx="11.3" ry="10.8"/>
<ellipse cx="1132.7" cy="950.7" rx="11.3" ry="10.8"/>
<ellipse cx="1154.1" cy="994.5" rx="11.3" ry="10.8"/>
<ellipse cx="1177.3" cy="957.9" rx="11.3" ry="10.8"/>
<ellipse cx="1227.3" cy="954.3" rx="11.3" ry="10.8"/>
<ellipse cx="1226.4" cy="911.4" rx="11.3" ry="10.8"/>
<ellipse cx="1269.3" cy="931.1" rx="11.3" ry="10.8"/>
<ellipse cx="1315.7" cy="933.8" rx="11.3" ry="10.8"/>
<ellipse cx="1363.0" cy="915.9" rx="11.3" ry="10.8"/>
<ellipse cx="1349.6" cy="958.8" rx="11.3" ry="10.8"/>
<ellipse cx="1355.0" cy="998.9" rx="11.3" ry="10.8"/>
<ellipse cx="1289.8" cy="966.8" rx="11.3" ry="10.8"/>
<ellipse cx="1259.5" cy="999.8" rx="11.3" ry="10.8"/>
<ellipse cx="1211.3" cy="993.6" rx="11.3" ry="10.8"/>
<ellipse cx="1230.9" cy="1028.4" rx="11.3" ry="10.8"/>
<ellipse cx="1301.4" cy="1007.0" rx="11.3" ry="10.8"/>
<ellipse cx="1374.6" cy="1057.9" rx="11.3" ry="10.8"/>
<ellipse cx="1336.3" cy="1084.6" rx="11.3" ry="10.8"/>
<ellipse cx="1466.4" cy="916.8" rx="11.3" ry="10.8"/>
<ellipse cx="1533.4" cy="902.5" rx="11.3" ry="10.8"/>
<ellipse cx="1515.5" cy="940.0" rx="11.3" ry="10.8"/>
<ellipse cx="1565.5" cy="936.4" rx="11.3" ry="10.8"/>
<ellipse cx="1612.0" cy="945.4" rx="11.3" ry="10.8"/>
<ellipse cx="1647.7" cy="915.0" rx="11.3" ry="10.8"/>
<ellipse cx="1655.7" cy="953.4" rx="11.3" ry="10.8"/>
<ellipse cx="1704.8" cy="963.2" rx="11.3" ry="10.8"/>
<ellipse cx="1664.6" cy="997.1" rx="11.3" ry="10.8"/>
<ellipse cx="1628.0" cy="1025.7" rx="11.3" ry="10.8"/>
<ellipse cx="1585.2" cy="1015.0" rx="11.3" ry="10.8"/>
<ellipse cx="1576.3" cy="975.7" rx="11.3" ry="10.8"/>
<ellipse cx="1536.0" cy="1001.6" rx="11.3" ry="10.8"/>
<ellipse cx="1488.8" cy="1003.4" rx="11.3" ry="10.8"/>
<ellipse cx="1437.9" cy="992.7" rx="11.3" ry="10.8"/>
<ellipse cx="1396.8" cy="975.7" rx="11.3" ry="10.8"/>
<ellipse cx="1397.7" cy="1020.4" rx="11.3" ry="10.8"/>
<ellipse cx="1421.8" cy="1057.9" rx="11.3" ry="10.8"/>
<ellipse cx="1440.5" cy="1098.0" rx="11.3" ry="10.8"/>
<ellipse cx="1472.7" cy="1067.7" rx="11.3" ry="10.8"/>
<ellipse cx="1520.0" cy="1081.1" rx="11.3" ry="10.8"/>
<ellipse cx="1511.1" cy="1040.9" rx="11.3" ry="10.8"/>
<ellipse cx="1603.0" cy="1057.9" rx="11.3" ry="10.8"/>
<ellipse cx="1670.9" cy="1040.9" rx="11.3" ry="10.8"/>
</g>
<ellipse cx="1243.4" cy="784.8" rx="45.2" ry="37.5" fill="#ffff00" filter="url(#gblur)"/>
<ellipse cx="1336.3" cy="818.8" rx="45.2" ry="37.5" fill="#ffff00" filter="url(#gblur)"/>
<ellipse cx="1290.7" cy="897.0" rx="45.2" ry="37.5" fill="#ffff00" filter="url(#gblur)"/>
<ellipse cx="1530.4" cy="795.9" rx="45.2" ry="37.5" fill="#ffff00" filter="url(#gblur)"/>
<ellipse cx="1312.1" cy="1039.6" rx="45.2" ry="37.5" fill="#ffff00" filter="url(#gblur)"/>
<ellipse cx="1483.4" cy="952.1" rx="45.2" ry="37.5" fill="#ffff00" filter="url(#gblur)"/>
<ellipse cx="1554.8" cy="1039.1" rx="45.2" ry="37.5" fill="#ffff00" filter="url(#gblur)"/>
<ellipse cx="1700.4" cy="1005.2" rx="45.2" ry="37.5" fill="#ffff00" filter="url(#gblur)"/>
<ellipse cx="1243.4" cy="784.8" rx="24" ry="16.7" fill="url(#red)" stroke="#1f5fa8" stroke-width="2.6"/>
<ellipse cx="1336.3" cy="818.8" rx="24" ry="16.7" fill="url(#red)" stroke="#1f5fa8" stroke-width="2.6"/>
<ellipse cx="1290.7" cy="897.0" rx="24" ry="16.7" fill="url(#red)" stroke="#1f5fa8" stroke-width="2.6"/>
<ellipse cx="1530.4" cy="795.9" rx="24" ry="16.7" fill="url(#red)" stroke="#1f5fa8" stroke-width="2.6"/>
<ellipse cx="1312.1" cy="1039.6" rx="24" ry="16.7" fill="url(#red)" stroke="#1f5fa8" stroke-width="2.6"/>
<ellipse cx="1483.4" cy="952.1" rx="24" ry="16.7" fill="url(#red)" stroke="#1f5fa8" stroke-width="2.6"/>
<ellipse cx="1554.8" cy="1039.1" rx="24" ry="16.7" fill="url(#red)" stroke="#1f5fa8" stroke-width="2.6"/>
<ellipse cx="1700.4" cy="1005.2" rx="24" ry="16.7" fill="url(#red)" stroke="#1f5fa8" stroke-width="2.6"/>
<g stroke="#2e6da4" stroke-width="2" stroke-linejoin="miter">
<path d="M1771.0 763.9 C1774.7 765.2 1785.4 771.2 1792.9 771.5 C1800.4 771.8 1808.5 768.6 1815.8 765.8 C1823.1 762.9 1831.0 757.9 1836.7 754.4 C1842.4 750.9 1847.9 746.4 1850.1 744.8 L1839.6 739.1 L1875.8 737.2 L1876.7 769.6 L1867.2 762 C1863.4 764.5 1852.0 773.2 1844.4 777.2 C1836.8 781.2 1827.9 784.2 1821.5 785.8 C1815.1 787.4 1811.9 787.4 1806.2 786.8 C1800.5 786.2 1792.3 784.2 1787.2 782.0 C1782.1 779.8 1778.4 776.4 1775.7 773.4 C1773.0 770.4 1771.8 765.5 1771.0 763.9 Z" fill="#c48c0a"/>
<path d="M1780.5 658.1 C1777.5 663.0 1767.3 677.3 1762.4 687.6 C1757.5 697.9 1752.9 711.4 1751.0 720.0 C1749.1 728.6 1749.7 732.7 1751.0 739.1 C1752.3 745.5 1755.3 752.8 1758.6 758.2 C1761.9 763.6 1766.2 767.5 1771.0 771.5 C1775.8 775.5 1784.5 780.2 1787.2 782.0 L1772.9 766.7 C1772.4 764.7 1770.3 760.3 1770.0 754.4 C1769.7 748.5 1769.1 740.1 1771.0 731.5 C1772.9 722.9 1776.9 712.5 1781.5 702.9 C1786.1 693.3 1795.8 678.7 1798.6 673.9 Z" fill="#9d6b07"/>
</g>
<g mask="url(#reflmask)"><g transform="translate(0,1576.6) scale(1,-1)" stroke="#7fa8d4" stroke-width="1.6">
<path d="M1771.0 763.9 C1774.7 765.2 1785.4 771.2 1792.9 771.5 C1800.4 771.8 1808.5 768.6 1815.8 765.8 C1823.1 762.9 1831.0 757.9 1836.7 754.4 C1842.4 750.9 1847.9 746.4 1850.1 744.8 L1839.6 739.1 L1875.8 737.2 L1876.7 769.6 L1867.2 762 C1863.4 764.5 1852.0 773.2 1844.4 777.2 C1836.8 781.2 1827.9 784.2 1821.5 785.8 C1815.1 787.4 1811.9 787.4 1806.2 786.8 C1800.5 786.2 1792.3 784.2 1787.2 782.0 C1782.1 779.8 1778.4 776.4 1775.7 773.4 C1773.0 770.4 1771.8 765.5 1771.0 763.9 Z" fill="#e0aa20"/>
<path d="M1780.5 658.1 C1777.5 663.0 1767.3 677.3 1762.4 687.6 C1757.5 697.9 1752.9 711.4 1751.0 720.0 C1749.1 728.6 1749.7 732.7 1751.0 739.1 C1752.3 745.5 1755.3 752.8 1758.6 758.2 C1761.9 763.6 1766.2 767.5 1771.0 771.5 C1775.8 775.5 1784.5 780.2 1787.2 782.0 L1772.9 766.7 C1772.4 764.7 1770.3 760.3 1770.0 754.4 C1769.7 748.5 1769.1 740.1 1771.0 731.5 C1772.9 722.9 1776.9 712.5 1781.5 702.9 C1786.1 693.3 1795.8 678.7 1798.6 673.9 Z" fill="#c8901a"/>
</g></g>
<g fill="none" stroke-linecap="butt"><path d="M698.7 861L728.2 844.9M838.6 844.9L870.6 858.4" stroke="#111" stroke-width="2.2"/><path d="M761.4 846L783.1 861L809.5 846" stroke="#f0141e" stroke-width="3.6" stroke-linejoin="miter"/></g>
<path d="M604.2 939.4H974" stroke="#000" stroke-width="4.2" stroke-dasharray="14.5 9" fill="none"/>
<polygon points="987.5,939.4 965.1,927.8 976.4,939.4 965.1,950.6" fill="#000"/>
<g fill="none" stroke="#000" stroke-width="3.1" stroke-linejoin="miter" stroke-linecap="butt">
<polyline points="263.3,688.6 333.1,726.2 408.6,685.7 472.9,720.7" />
<polyline points="286.7,679.8 283.2,679.8 283.2,726.6 286.7,726.6" />
<polyline points="436.7,679.8 440.6,679.8 440.6,726.6 436.7,726.6" />
<polyline points="333.1,726.2 333.1,777.9" />
<polygon points="333.1,777.9 391.9,809.5 391.9,874.3 333.1,905.2 274.5,874.3 274.5,809.5"/>
<polyline points="281.9,814.8 334.0,786.7" />
<polyline points="384.3,814.3 384.3,870.0" />
<polyline points="281.9,869.5 334.0,897.4" />
<polyline points="333.1,905.2 331.2,979.3" />
<polyline points="40.5,967.4 106.0,932.1 181.4,972.1 276.2,942.9 331.2,979.3 406.7,939.3 482.4,979.3 551.4,942.9" />
<polyline points="78.6,929.4 74.0,929.4 74.0,986.8 78.6,986.8" />
<polyline points="201.2,927.0 205.4,927.0 205.4,985.6 201.2,985.6" />
<polyline points="261.6,924.0 256.6,924.0 256.6,995.8 261.6,995.8" />
<polyline points="349.0,932.3 354.3,932.3 354.3,1003.9 349.0,1003.9" />
<polyline points="399.0,925.8 394.0,925.8 394.0,995.8 399.0,995.8" />
<polyline points="514.0,925.8 519.2,925.8 519.2,995.8 514.0,995.8" />
<polyline points="181.4,972.1 181.4,1028.6" />
<polygon points="181.4,1028.6 246.4,1063.1 246.4,1132.1 181.4,1167.9 116.7,1132.1 116.7,1063.1"/>
<polyline points="126.2,1069.0 182.1,1038.1" />
<polyline points="236.9,1068.6 236.9,1128.6" />
<polyline points="126.2,1128.1 182.1,1158.3" />
<polyline points="482.4,979.3 479.5,1032.1" />
</g>
<g fill="none" stroke="#0000ff" stroke-width="3.4" stroke-linecap="round" stroke-linejoin="miter">
<polyline points="465.7,1057.6 424.0,1087.4 448.6,1149.5 505.0,1148.3" />
<polyline points="493.8,1056.7 537.9,1083.8 522.9,1132.1" />
<polyline points="527.6,1088.1 515.2,1129.8" />
<polyline points="434.3,1090.5 453.3,1140.5" />
</g>
<g font-family="'Liberation Sans',sans-serif" font-weight="bold" font-size="27.5" fill="#0000ff" text-anchor="middle">
<text x="479.7" y="1056.3">N</text><text x="518.8" y="1157">N</text></g>
<g font-family="'Liberation Sans',sans-serif" font-size="23" font-weight="bold" fill="#000" text-anchor="middle">
<text x="256.2" y="692.0">*</text>
<text x="483.6" y="732.0">*</text>
<text x="29.8" y="979.5">*</text>
<text x="557.4" y="946.0">*</text>
</g>
<g font-family="'Liberation Serif',serif" font-style="italic" font-size="24" fill="#000" text-anchor="middle">
<text x="451.4" y="730">q</text><text x="221.4" y="987.5">m</text><text x="368" y="1006.5">n</text><text x="537" y="993">p</text></g>
<g font-family="'Liberation Serif',serif" fill="#000" style="font-kerning:none"><text x="377.6" y="411.5" text-anchor="start" font-size="44.6">Protein-PBUT complex</text>
<text x="1094.0" y="379.0" text-anchor="start" font-size="44.3">Free PBUT</text>
<text x="1509.0" y="379.0" text-anchor="start" font-size="44.6">Protein</text>
<text x="1040.0" y="514.0" text-anchor="middle" font-size="44.3">Porous adsorption</text>
<text x="1040.0" y="554.0" text-anchor="middle" font-size="44.3">hydrogen bond</text>
<text x="1040.0" y="593.0" text-anchor="middle" font-size="44.3">electrostatic interaction</text>
<text x="784.8" y="985.8" text-anchor="middle" font-size="44.5">Hyper-crosslinking</text>
<text x="181.8" y="1229.0" text-anchor="start" font-size="44.7">P(St-DVB-VMZ)</text>
<text x="1246.0" y="1229.0" text-anchor="start" font-size="44.7">HCP(St-DVB-VMZ)</text>
<text x="746.8" y="846.5" text-anchor="middle" font-size="45.5">O</text>
<text x="822.9" y="846.5" text-anchor="middle" font-size="45.5">O</text>
<text x="741.5" y="912.6" font-size="44.3">FeCl<tspan font-size="25" dy="4">3</tspan></text></g>
</svg></body></html>
